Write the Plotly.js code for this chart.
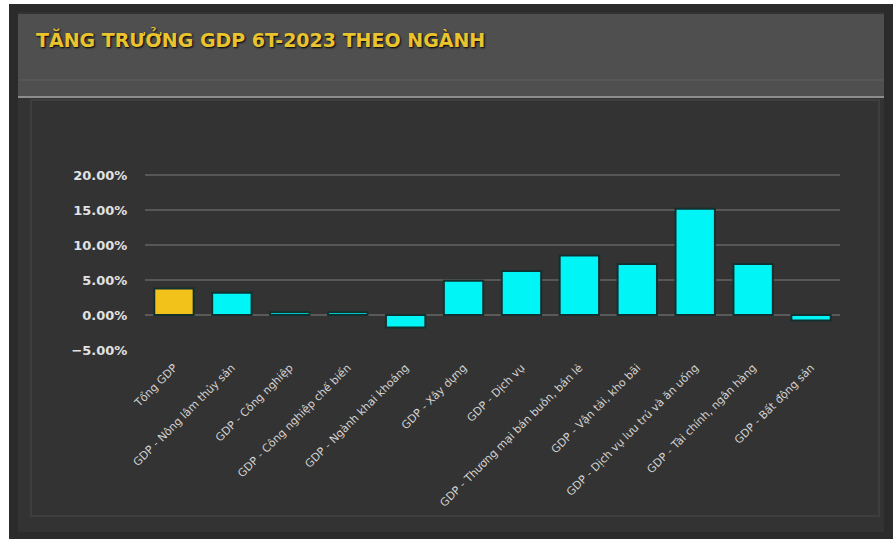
<!DOCTYPE html>
<html>
<head>
<meta charset="utf-8">
<script src="https://cdn.plot.ly/plotly-3.0.1.min.js"></script>
<style>
  html, body { margin: 0; padding: 0; background: #ffffff; }
  #chart { width: 893px; height: 539px; }
</style>
</head>
<body>
<div id="chart"></div>
<script>
// ---- data ----
const categories = [
  "Tổng GDP",
  "GDP - Nông lâm thủy sản",
  "GDP - Công nghiệp",
  "GDP - Công nghiệp chế biến",
  "GDP - Ngành khai khoáng",
  "GDP - Xây dựng",
  "GDP - Dịch vụ",
  "GDP - Thương mại bán buôn, bán lẻ",
  "GDP - Vận tải, kho bãi",
  "GDP - Dịch vụ lưu trú và ăn uống",
  "GDP - Tài chính, ngân hàng",
  "GDP - Bất động sản"
];
const growthPct = [3.8, 3.2, 0.4, 0.4, -1.8, 4.9, 6.3, 8.5, 7.3, 15.2, 7.3, -0.8];
const titleText = "TĂNG TRƯỞNG GDP 6T-2023 THEO NGÀNH";

// ---- layout helpers (pixel -> paper) ----
const W = 893, H = 539;
const M = {l: 145, r: 53, t: 173, b: 189};
const pw = W - M.l - M.r, ph = H - M.t - M.b;
const px = x => (x - M.l) / pw;
const py = y => (H - M.b - y) / ph;

function rect(x0, y0, x1, y1, fill, lineColor, lineWidth) {
  return {type: 'rect', xref: 'paper', yref: 'paper', layer: 'below',
    x0: px(x0), x1: px(x1), y0: py(y1), y1: py(y0),
    fillcolor: fill, line: {color: lineColor || 'rgba(0,0,0,0)', width: lineWidth || 0}};
}
function hline(x0, x1, y, color, width) {
  return {type: 'line', xref: 'paper', yref: 'paper', layer: 'below',
    x0: px(x0), x1: px(x1), y0: py(y), y1: py(y), line: {color: color, width: width}};
}

const barColors = growthPct.map((v, i) => i === 0 ? '#f2c21b' : '#00f6f6');

const trace = {
  type: 'bar',
  x: categories,
  y: growthPct,
  marker: {color: barColors, line: {color: '#12302f', width: 2}},
  hoverinfo: 'x+y'
};

const layout = {
  width: W, height: H,
  margin: M,
  paper_bgcolor: '#ffffff',
  plot_bgcolor: 'rgba(0,0,0,0)',
  showlegend: false,
  bargap: 0.32,
  title: {
    text: titleText,
    xref: 'container', yref: 'container',
    x: 36 / W, xanchor: 'left',
    y: 1 - 40 / H, yanchor: 'middle',
    font: {family: 'DejaVu Sans, Arial, sans-serif', size: 19, color: '#e9c42e', weight: 'bold',
           shadow: '1px 1px 2px #000'}
  },
  xaxis: {
    type: 'category',
    tickangle: -45,
    tickfont: {family: 'DejaVu Sans, Arial, sans-serif', size: 11, color: '#d2d2d2'},
    showgrid: false, zeroline: false, showline: false,
    ticks: 'outside', ticklen: 6, tickcolor: 'rgba(0,0,0,0)'
  },
  yaxis: {
    range: [-5, 20.3],
    dtick: 5,
    tick0: 0,
    tickformat: '.2f',
    ticksuffix: '%',
    tickfont: {family: 'DejaVu Sans, Arial, sans-serif', size: 13, color: '#e2e2e2', weight: 'bold'},
    gridcolor: '#575757', gridwidth: 2,
    zeroline: true, zerolinecolor: '#5a5a5a', zerolinewidth: 2,
    showline: false,
    ticks: 'outside', ticklen: 14, tickcolor: 'rgba(0,0,0,0)'
  },
  shapes: [
    rect(9, 4, 893, 539, '#2b2b2b'),
    rect(18, 12, 884, 532, '#333333'),
    rect(18, 14, 884, 97, '#4f4f4f'),
    hline(18, 884, 80, '#5e5e5e', 1),
    hline(18, 884, 97, '#8c8c8c', 2),
    rect(31, 100, 879, 516, 'rgba(0,0,0,0)', '#3e3e3e', 2)
  ]
};

Plotly.newPlot('chart', [trace], layout, {displayModeBar: false, staticPlot: true});
</script>
</body>
</html>
